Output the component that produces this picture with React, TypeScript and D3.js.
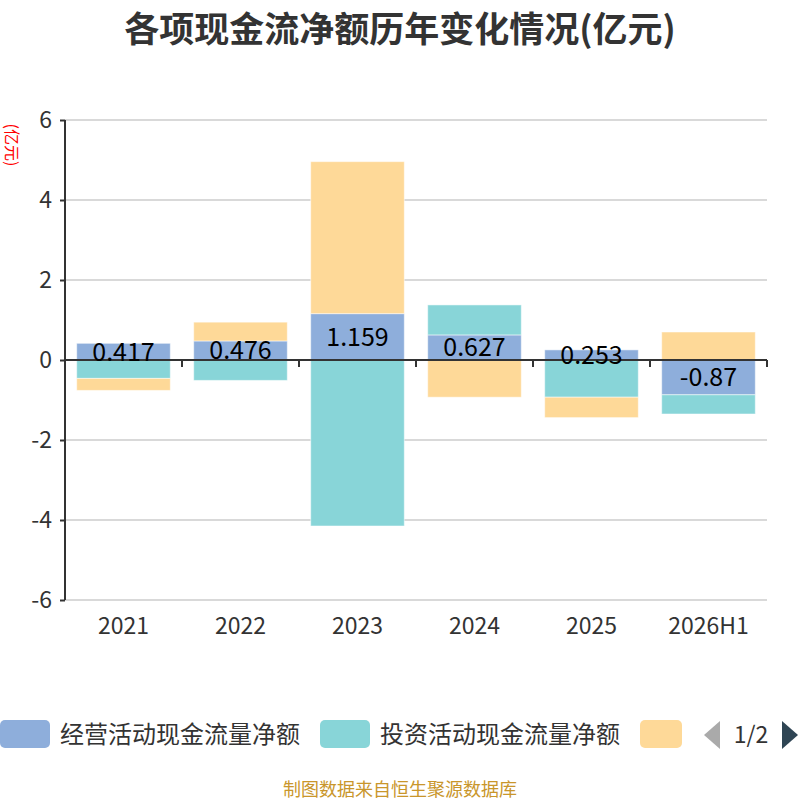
import React, { useEffect, useRef } from 'react';
import * as d3 from 'd3';

const categories = ['2021', '2022', '2023', '2024', '2025', '2026H1'];
const seriesNames = ['经营活动现金流量净额', '投资活动现金流量净额', '筹资活动现金流量净额'];
const operating = [0.417, 0.476, 1.159, 0.627, 0.253, -0.87];
const investing = [-0.46, -0.51, -4.15, 0.75, -0.93, -0.48];
const financing = [-0.3, 0.47, 3.8, -0.93, -0.51, 0.7];
const yTicks = [-6, -4, -2, 0, 2, 4, 6];
const colors = ['#8eaedb', '#88d5d8', '#fed998'];

interface Segment {
  series: number;
  cat: string;
  y0: number;
  y1: number;
  value: number;
}

export default function App() {
  const svgRef = useRef<SVGSVGElement | null>(null);

  useEffect(() => {
    if (!svgRef.current) return;
    const svg = d3.select(svgRef.current);
    svg.selectAll('*').remove();

    const font = '"Noto Sans CJK SC", "Noto Sans", sans-serif';
    const left = 65;
    const right = 767;
    const top = 120;
    const bottom = 600;

    const x = d3.scaleBand<string>().domain(categories).range([left, right]).paddingInner(0.2).paddingOuter(0.1);
    const band = d3.scaleBand<string>().domain(categories).range([left, right]);
    const y = d3.scaleLinear().domain([-6, 6]).range([bottom, top]);

    // stack positive and negative values separately, like echarts
    const all = [operating, investing, financing];
    const segments: Segment[] = [];
    categories.forEach((cat, i) => {
      let pos = 0;
      let neg = 0;
      all.forEach((arr, s) => {
        const v = arr[i];
        if (v >= 0) {
          segments.push({ series: s, cat, y0: pos, y1: pos + v, value: v });
          pos += v;
        } else {
          segments.push({ series: s, cat, y0: neg, y1: neg + v, value: v });
          neg += v;
        }
      });
    });

    // title
    svg.append('text')
      .attr('x', 400)
      .attr('y', 42)
      .attr('text-anchor', 'middle')
      .attr('fill', '#333')
      .style('font-family', font)
      .style('font-size', '35px')
      .style('font-weight', 'bold')
      .text('各项现金流净额历年变化情况(亿元)');

    // y unit label
    svg.append('text')
      .attr('transform', 'translate(6,145) rotate(90)')
      .attr('text-anchor', 'middle')
      .attr('fill', 'red')
      .style('font-family', font)
      .style('font-size', '16px')
      .text('(亿元)');

    // grid
    svg.append('g')
      .selectAll('line')
      .data(yTicks.filter((t) => t !== 0))
      .join('line')
      .attr('x1', left)
      .attr('x2', right)
      .attr('y1', (d) => y(d))
      .attr('y2', (d) => y(d))
      .attr('stroke', '#ccc')
      .attr('stroke-width', 1.5);

    // bars
    svg.append('g')
      .selectAll('rect')
      .data(segments)
      .join('rect')
      .attr('x', (d) => x(d.cat)!)
      .attr('width', x.bandwidth())
      .attr('y', (d) => y(Math.max(d.y0, d.y1)))
      .attr('height', (d) => Math.abs(y(d.y0) - y(d.y1)))
      .attr('fill', (d) => colors[d.series])
      .attr('stroke', '#fff')
      .attr('stroke-opacity', 0.5)
      .attr('stroke-width', 1);

    // y axis
    const yAxis = svg.append('g')
      .attr('transform', `translate(${left},0)`)
      .call(d3.axisLeft(y).tickValues(yTicks).tickSize(5).tickPadding(8).tickFormat((d) => String(d)));
    yAxis.select('.domain').attr('stroke', '#333').attr('stroke-width', 2).attr('d', `M0,${top}V${bottom}`);
    yAxis.selectAll('.tick line').attr('stroke', '#333').attr('stroke-width', 2);
    yAxis.selectAll('.tick text')
      .attr('fill', '#333')
      .style('font-family', font)
      .style('font-size', '23px');

    // x axis line at zero with ticks at band boundaries
    const zeroY = y(0);
    svg.append('line')
      .attr('x1', left)
      .attr('x2', right)
      .attr('y1', zeroY)
      .attr('y2', zeroY)
      .attr('stroke', '#333')
      .attr('stroke-width', 2);
    const boundaries = categories.map((c) => band(c)! + band.bandwidth());
    svg.append('g')
      .selectAll('line')
      .data(boundaries)
      .join('line')
      .attr('x1', (d) => d)
      .attr('x2', (d) => d)
      .attr('y1', zeroY)
      .attr('y2', zeroY + 7)
      .attr('stroke', '#333')
      .attr('stroke-width', 2);

    svg.append('g')
      .selectAll('text')
      .data(categories)
      .join('text')
      .attr('x', (d) => band(d)! + band.bandwidth() / 2)
      .attr('y', 634)
      .attr('text-anchor', 'middle')
      .attr('fill', '#333')
      .style('font-family', font)
      .style('font-size', '23px')
      .text((d) => d);

    // value labels on operating bars
    svg.append('g')
      .selectAll('text')
      .data(segments.filter((s) => s.series === 0))
      .join('text')
      .attr('x', (d) => x(d.cat)! + x.bandwidth() / 2)
      .attr('y', (d) => y((d.y0 + d.y1) / 2))
      .attr('dy', '0.36em')
      .attr('text-anchor', 'middle')
      .attr('fill', '#000')
      .style('font-family', font)
      .style('font-size', '25px')
      .text((d) => String(d.value));

    // legend
    const legend = svg.append('g');
    const legendX = [0, 320, 640];
    seriesNames.forEach((name, i) => {
      legend.append('rect')
        .attr('x', legendX[i])
        .attr('y', 720)
        .attr('width', i === 2 ? 42 : 50)
        .attr('height', 28)
        .attr('rx', 5)
        .attr('fill', colors[i]);
      if (i < 2) {
        legend.append('text')
          .attr('x', legendX[i] + 60)
          .attr('y', 743)
          .attr('fill', '#333')
          .style('font-family', font)
          .style('font-size', '24px')
          .text(name);
      }
    });
    legend.append('path').attr('d', 'M720,721L704,735L720,749Z').attr('fill', '#aaa');
    legend.append('text')
      .attr('x', 751)
      .attr('y', 743)
      .attr('text-anchor', 'middle')
      .attr('fill', '#333')
      .style('font-family', font)
      .style('font-size', '23px')
      .text('1/2');
    legend.append('path').attr('d', 'M782,721L798,735L782,749Z').attr('fill', '#2f4554');

    // source
    svg.append('text')
      .attr('x', 400)
      .attr('y', 796)
      .attr('text-anchor', 'middle')
      .attr('fill', '#c9962b')
      .style('font-family', font)
      .style('font-size', '18px')
      .text('制图数据来自恒生聚源数据库');
  }, []);

  return (
    <div style={{ position: 'absolute', left: 0, top: 0, width: 800, height: 800, background: '#fff' }}>
      <svg ref={svgRef} width={800} height={800} />
    </div>
  );
}
